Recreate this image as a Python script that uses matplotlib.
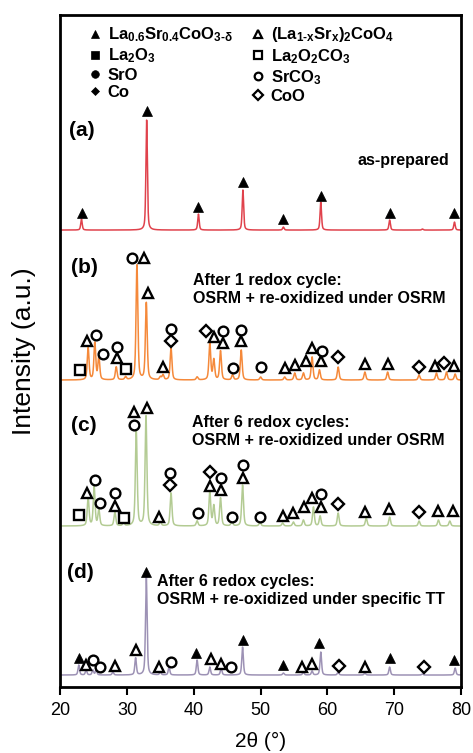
import numpy as np
import matplotlib
matplotlib.use("Agg")
import matplotlib.pyplot as plt
from matplotlib.lines import Line2D

plt.rcParams['font.family'] = ['Liberation Sans', 'DejaVu Sans']
plt.rcParams['mathtext.fontset'] = 'custom'
plt.rcParams['mathtext.rm'] = 'Liberation Sans:bold'
plt.rcParams['mathtext.default'] = 'rm'

# --- peak lists (2theta, height above baseline) ---
a_pos = [23.2, 32.95, 40.7, 47.35, 53.4, 59.0, 69.3, 74.2, 79.0]
a_h = [11, 110, 16, 40, 3, 28, 10, 1, 8]

b_pos = [24.2, 25.2, 25.8, 28.4, 29.8, 31.5, 32.9, 35.0, 35.4, 36.6, 40.5, 42.4, 43.0,
         44.0, 45.8, 47.1, 50.0, 53.6, 55.1, 56.4, 57.7, 58.8, 61.6, 65.6, 69.0, 73.7,
         76.3, 77.8, 79.1]
b_h = [32, 37, 23, 13, 3, 115, 77, 3, 5, 32, 3, 37, 20, 29, 5, 30, 3, 3, 7, 7, 23, 10, 13,
       8, 8, 5, 7, 8, 6]

c_pos = [24.2, 25.1, 25.8, 28.2, 29.5, 31.4, 32.85, 35.0, 36.6, 40.5, 42.4, 43.0, 44.0,
         45.7, 47.3, 49.9, 53.3, 54.9, 56.4, 57.9, 58.9, 61.6, 65.8, 69.3, 73.7, 76.6, 78.3]
c_h = [28, 39, 16, 14, 3, 94, 110, 4, 33, 5, 34, 20, 28, 5, 41, 4, 3, 4, 6, 19, 10, 13, 8,
       9, 5, 6, 5]

d_pos = [22.8, 23.9, 24.9, 25.4, 27.9, 31.3, 32.9, 35.0, 36.3, 40.5, 42.4, 44.1, 47.3,
         53.4, 56.4, 57.7, 59.0, 61.6, 65.6, 69.3, 74.2, 79.1]
d_h = [10, 5, 5, 5, 3, 17, 98, 3, 8, 15, 8, 7, 28, 2, 3, 4, 23, 3, 2, 8, 1, 7]

# --- phase markers per pattern (2theta, height above baseline) ---
a_lsc = ([23.3, 33.0, 40.7, 47.4, 53.4, 59.0, 69.3, 79.0], [17, 119, 23, 48, 11, 34, 17, 17])

b_rp = ([24.0, 28.5, 32.5, 33.2, 35.4, 43.0, 44.3, 47.1, 53.6, 55.2, 56.8, 57.7, 59.0,
         65.6, 69.1, 76.1, 79.0],
        [39, 22, 122, 87, 13, 43, 37, 39, 12, 15, 19, 32, 19, 16, 16, 14, 14])
b_lc = ([23.0, 29.8], [10, 11])
b_sc = ([25.4, 26.4, 28.5, 30.7, 36.6, 44.3, 45.8, 47.1, 50.0, 59.2],
        [45, 26, 33, 122, 51, 49, 12, 50, 13, 29])
b_coo = ([36.6, 41.9, 61.6, 73.7, 77.5], [39, 49, 23, 13, 17])

c_rp = ([24.0, 28.2, 31.0, 33.0, 34.8, 42.4, 44.1, 47.3, 53.3, 54.9, 56.5, 57.7, 59.1,
         65.6, 69.2, 76.6, 78.8],
        [33, 20, 114, 118, 9, 40, 36, 48, 10, 13, 19, 28, 19, 14, 17, 15, 15])
c_lc = ([22.9, 29.6], [11, 8])
c_sc = ([25.2, 25.9, 28.2, 31.0, 36.5, 40.6, 44.1, 45.7, 47.3, 49.9, 59.1],
        [46, 23, 33, 101, 53, 13, 48, 9, 61, 9, 32])
c_coo = ([36.5, 42.4, 61.6, 73.7], [41, 54, 22, 14])

d_lsc = ([22.8, 32.9, 40.4, 47.3, 53.4, 58.8, 69.3, 79.0], [17, 103, 22, 35, 10, 32, 17, 15])
d_rp = ([23.9, 28.2, 31.3, 34.8, 42.6, 44.1, 56.2, 57.7, 65.6], [10, 9, 25, 8, 16, 11, 8, 11, 8])
d_sc = ([24.9, 25.9, 36.6, 45.6], [15, 8, 13, 8])
d_coo = ([61.7, 74.5], [9, 8])

offsets = [457, 307, 161, 12]
colors = ['#e0424c', '#f5893a', '#b3cb93', '#9d92b5']
widths = [0.13, 0.16, 0.16, 0.14]

x = np.linspace(20, 80, 4000)


def pattern(pos, h, w):
    y = np.zeros_like(x)
    for p, hh in zip(pos, h):
        y += hh * (0.5 / (1 + ((x - p) / w) ** 2) + 0.5 * np.exp(-np.log(2) * ((x - p) / w) ** 2))
    return y


fig = plt.figure(figsize=(4.73, 7.53), dpi=100)
ax = fig.add_axes([0.127, 0.0876, 0.848, 0.8924])

for (pos, h), off, col, w in zip([(a_pos, a_h), (b_pos, b_h), (c_pos, c_h), (d_pos, d_h)],
                                 offsets, colors, widths):
    ax.plot(x, pattern(pos, h, w) + off, color=col, lw=1.1)

ms = 7
def mark(data, off, marker, filled, size=ms):
    xs, hs = data
    ax.plot(xs, np.array(hs) + off, ls='none', marker=marker, ms=size,
            mfc='black' if filled else 'white', mec='black', mew=1.7 if not filled else 0.5)

mark(a_lsc, offsets[0], '^', True)
mark(b_rp, offsets[1], '^', False)
mark(b_lc, offsets[1], 's', False, 6.5)
mark(b_sc, offsets[1], 'o', False)
mark(b_coo, offsets[1], 'D', False, 6)
mark(c_rp, offsets[2], '^', False)
mark(c_lc, offsets[2], 's', False, 6.5)
mark(c_sc, offsets[2], 'o', False)
mark(c_coo, offsets[2], 'D', False, 6)
mark(d_lsc, offsets[3], '^', True)
mark(d_rp, offsets[3], '^', False)
mark(d_sc, offsets[3], 'o', False)
mark(d_coo, offsets[3], 'D', False, 6)

# panel labels and captions
tkw = dict(fontsize=11.5, fontweight='bold')
ax.text(21.4, 557, '(a)', fontsize=15, fontweight='bold', va='center')
ax.text(21.7, 420, '(b)', fontsize=15, fontweight='bold', va='center')
ax.text(21.7, 262, '(c)', fontsize=15, fontweight='bold', va='center')
ax.text(21.1, 115, '(d)', fontsize=15, fontweight='bold', va='center')
ax.text(78.2, 527, 'as-prepared', ha='right', va='center', **tkw)
ax.text(39.85, 397.5, 'After 1 redox cycle:\nOSRM + re-oxidized under OSRM',
        ha='left', va='center', linespacing=1.25, **tkw)
ax.text(39.7, 256, 'After 6 redox cycles:\nOSRM + re-oxidized under OSRM',
        ha='left', va='center', linespacing=1.25, **tkw)
ax.text(34.5, 97, 'After 6 redox cycles:\nOSRM + re-oxidized under specific TT',
        ha='left', va='center', linespacing=1.25, **tkw)

# legend
def h(marker, filled, size=6):
    return Line2D([], [], ls='none', marker=marker, ms=size, mfc='black' if filled else 'white',
                  mec='black', mew=1.6 if not filled else 0.5)

handles = [h('^', True), h('s', True, 5.5), h('o', True, 5.5), h('D', True, 4),
           h('^', False), h('s', False, 5.5), h('o', False, 5.5), h('D', False, 5)]
labels = ['La$_{0.6}$Sr$_{0.4}$CoO$_{3\u2010\u03b4}$', 'La$_2$O$_3$', 'SrO', 'Co',
          '(La$_{1\u2010x}$Sr$_x$)$_2$CoO$_4$', 'La$_2$O$_2$CO$_3$', 'SrCO$_3$', 'CoO']
ax.legend(handles, labels, ncol=2, loc='upper left', bbox_to_anchor=(0.05, 0.997),
          frameon=False, prop={'weight': 'bold', 'size': 12}, handlelength=0.8,
          handletextpad=0.35, labelspacing=0.15, columnspacing=1.15, borderpad=0)

ax.set_xlim(20, 80)
ax.set_ylim(0, 672)
ax.set_xticks(np.arange(20, 81, 10))
ax.set_yticks([])
ax.tick_params(axis='x', direction='out', length=6, width=1.5, labelsize=13, pad=5)
for s in ax.spines.values():
    s.set_linewidth(2)
ax.set_xlabel('2\u03b8 (\u00b0)', fontsize=15, labelpad=9)
ax.set_ylabel('Intensity (a.u.)', fontsize=19, labelpad=17)

fig.savefig('out.png', dpi=100)
